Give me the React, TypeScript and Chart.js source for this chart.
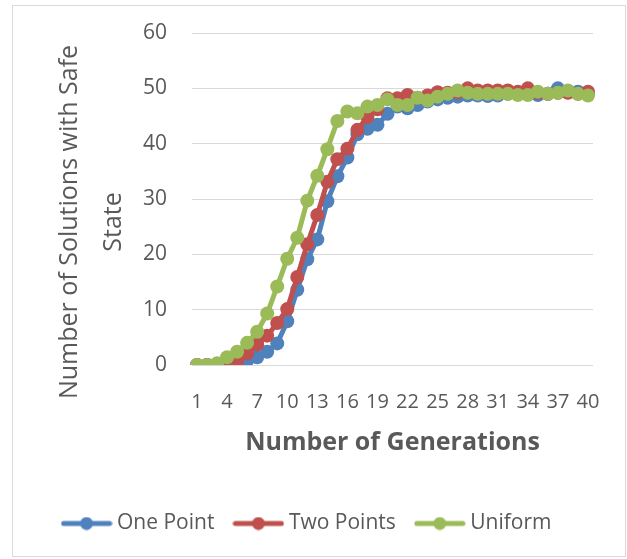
import React, { useEffect, useRef } from "react";
import { Chart, registerables } from "chart.js";

Chart.register(...registerables);

const generations = [
  "1","2","3","4","5","6","7","8","9","10",
  "11","12","13","14","15","16","17","18","19","20",
  "21","22","23","24","25","26","27","28","29","30",
  "31","32","33","34","35","36","37","38","39","40",
];

const onePoint = [0, 0, 0, 0, 0, 0.8, 1.4, 2.4, 3.9, 7.9, 13.6, 19.1, 22.7, 29.6, 34.1, 37.5, 41.7, 42.7, 43.4, 45.4, 46.7, 46.4, 47.0, 47.6, 48.0, 48.3, 48.5, 48.7, 48.7, 48.6, 48.7, 49.0, 49.0, 49.0, 48.8, 49.0, 50.0, 49.3, 49.4, 49.0];
const twoPoints = [0, 0, 0.2, 0.3, 0.8, 2.1, 3.7, 5.3, 7.6, 10.1, 15.9, 21.8, 27.1, 33.1, 37.2, 39.1, 42.5, 44.8, 46.2, 48.2, 48.2, 48.8, 48.3, 48.7, 49.3, 49.2, 49.3, 50.0, 49.6, 49.6, 49.6, 49.6, 49.4, 50.0, 49.2, 49.0, 49.2, 49.2, 49.0, 49.4];
const uniform = [0, 0, 0.3, 1.4, 2.4, 4.0, 6.0, 9.3, 14.2, 19.2, 23.0, 29.7, 34.2, 39.0, 44.1, 45.8, 45.5, 46.7, 47.0, 48.0, 47.0, 47.0, 48.3, 47.8, 48.5, 49.0, 49.6, 49.2, 49.0, 49.0, 49.0, 49.0, 48.8, 48.8, 49.4, 49.0, 49.2, 49.6, 49.0, 48.7];

const seriesNames = ["One Point", "Two Points", "Uniform"];
const seriesColors = ["#4F81BD", "#C0504D", "#9BBB59"];
const yTitleLines = ["Number of Solutions with Safe", "State"];
const xTitle = "Number of Generations";

const FONT = "'Open Sans', 'Noto Sans', sans-serif";
const TEXT = "#595959";

function legendIcon(color: string): HTMLCanvasElement {
  const c = document.createElement("canvas");
  c.width = 52;
  c.height = 14;
  const ctx = c.getContext("2d")!;
  ctx.strokeStyle = color;
  ctx.lineWidth = 5;
  ctx.lineCap = "round";
  ctx.beginPath();
  ctx.moveTo(3, 7);
  ctx.lineTo(49, 7);
  ctx.stroke();
  ctx.fillStyle = color;
  ctx.beginPath();
  ctx.arc(26, 7, 6.5, 0, Math.PI * 2);
  ctx.fill();
  return c;
}

const frameAndTitle = {
  id: "frameAndTitle",
  beforeDraw(chart: any) {
    const ctx = chart.ctx;
    ctx.save();
    ctx.fillStyle = "#ffffff";
    ctx.fillRect(0, 0, chart.width, chart.height);
    ctx.strokeStyle = "#d9d9d9";
    ctx.lineWidth = 1;
    ctx.strokeRect(12.5, 5.5, 613, 551);
    ctx.restore();
  },
  afterDraw(chart: any) {
    const ctx = chart.ctx;
    ctx.save();
    ctx.fillStyle = TEXT;
    ctx.font = `25px ${FONT}`;
    ctx.textAlign = "center";
    ctx.textBaseline = "middle";
    const cy = 222;
    const xs = [70, 114];
    yTitleLines.forEach((line, i) => {
      ctx.save();
      ctx.translate(xs[i], cy);
      ctx.rotate(-Math.PI / 2);
      ctx.fillText(line, 0, 0);
      ctx.restore();
    });
    ctx.restore();
  },
};

export default function App() {
  const ref = useRef<HTMLCanvasElement>(null);

  useEffect(() => {
    document.body.style.margin = "0";
    const icons = seriesColors.map(legendIcon);
    const series = [onePoint, twoPoints, uniform];
    const chart = new Chart(ref.current!, {
      type: "line",
      data: {
        labels: generations,
        datasets: series.map((d, i) => ({
          label: seriesNames[i],
          data: d,
          borderColor: seriesColors[i],
          backgroundColor: seriesColors[i],
          borderWidth: 5,
          pointRadius: 7,
          pointHoverRadius: 7,
          pointBorderWidth: 0,
          pointBackgroundColor: seriesColors[i],
          tension: 0,
          order: 2 - i,
        })),
      },
      options: {
        responsive: false,
        animation: false,
        devicePixelRatio: 1,
        layout: { padding: { left: 25, right: 34, top: 33, bottom: 15 } },
        plugins: {
          tooltip: { enabled: false },
          legend: {
            position: "bottom",
            labels: {
              usePointStyle: true,
              pointStyleWidth: 40,
              padding: 24,
              color: TEXT,
              font: { family: FONT, size: 21 },
              generateLabels: (ch: any) =>
                ch.data.datasets.map((ds: any, i: number) => ({
                  text: ds.label,
                  pointStyle: icons[i],
                  fillStyle: seriesColors[i],
                  strokeStyle: seriesColors[i],
                  lineWidth: 0,
                  hidden: false,
                  datasetIndex: i,
                  fontColor: TEXT,
                })),
            },
          },
        },
        scales: {
          x: {
            offset: true,
            grid: { display: false, drawTicks: false },
            border: { display: false },
            ticks: {
              autoSkip: false,
              maxRotation: 0,
              minRotation: 0,
              padding: 25,
              color: TEXT,
              font: { family: FONT, size: 20 },
              callback: (_v: any, i: number) => (i % 3 === 0 ? generations[i] : ""),
            },
            title: {
              display: true,
              text: xTitle,
              color: TEXT,
              font: { family: FONT, size: 25, weight: "bold" },
              padding: { top: 31, bottom: 31 },
            },
            afterFit: (axis: any) => {
              axis.height = 124;
            },
          },
          y: {
            min: 0,
            max: 60,
            grid: { color: "#d9d9d9", lineWidth: 1, drawTicks: false },
            border: { display: false },
            ticks: {
              stepSize: 10,
              padding: 25,
              color: TEXT,
              font: { family: FONT, size: 21 },
            },
            afterFit: (axis: any) => {
              axis.width = 167;
              axis.paddingTop = 12;
              axis.paddingBottom = 12;
            },
          },
        },
      },
      plugins: [frameAndTitle],
    });
    return () => chart.destroy();
  }, []);

  return (
    <div style={{ position: "fixed", left: 0, top: 0, width: 627, height: 559 }}>
      <canvas ref={ref} width={627} height={559} />
    </div>
  );
}
